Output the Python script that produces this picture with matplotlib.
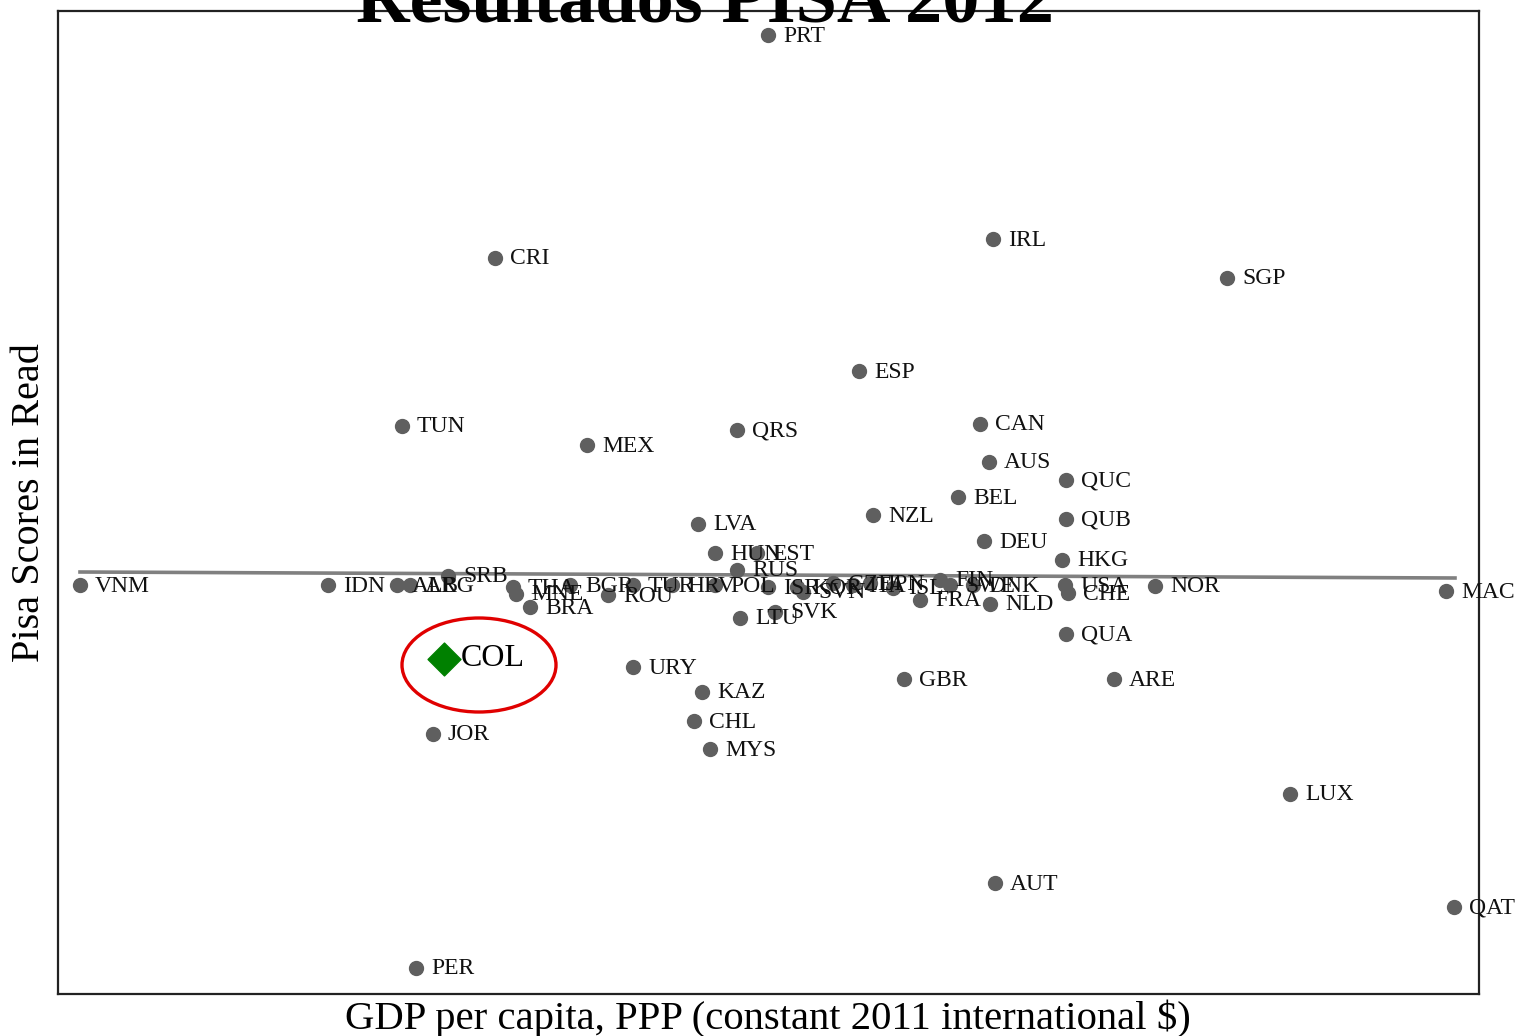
import matplotlib
matplotlib.use("Agg")
import matplotlib.pyplot as plt
from matplotlib.patches import Ellipse

# values (arbitrary units, no ticks on the original)
countries = ['PRT', 'IRL', 'CRI', 'SGP', 'ESP', 'TUN', 'CAN', 'MEX', 'QRS', 'AUS',
             'QUC', 'BEL', 'NZL', 'QUB', 'LVA', 'DEU', 'HKG', 'HUN', 'EST', 'RUS',
             'VNM', 'IDN', 'ALB', 'ARG', 'SRB', 'THA', 'MNE', 'BRA', 'BGR', 'ROU',
             'TUR', 'HRV', 'POL', 'ISR', 'KOR', 'SVN', 'CZE', 'ITA', 'JPN', 'ISL',
             'LTU', 'SVK', 'FRA', 'FIN', 'SWE', 'DNK', 'NLD', 'USA', 'CHE', 'NOR',
             'MAC', 'QUA', 'ARE', 'GBR', 'URY', 'KAZ', 'CHL', 'MYS', 'JOR', 'LUX',
             'AUT', 'QAT', 'PER']
gdp = [710, 935, 437, 1169, 801, 344, 922, 529, 679, 931,
       1008, 900, 815, 1008, 640, 926, 1004, 657, 699, 679,
       22, 270, 339, 352, 390, 455, 458, 472, 512, 550,
       575, 614, 657, 710, 739, 745, 775, 795, 812, 835,
       682, 717, 862, 882, 892, 915, 932, 1007, 1010, 1097,
       1388, 1008, 1056, 846, 575, 644, 636, 652, 375, 1232,
       937, 1396, 358]
read = [959, 755, 736, 716, 623, 568, 570, 549, 564, 532,
        514, 497, 479, 475, 470, 453, 434, 441, 441, 424,
        409, 409, 409, 409, 418, 407, 400, 387, 409, 399,
        409, 409, 409, 407, 407, 402, 411, 409, 411, 406,
        376, 382, 394, 414, 409, 409, 390, 409, 401, 408,
        403, 360, 315, 315, 327, 302, 273, 245, 260, 200,
        111, 87, 26]

col_gdp, col_read = 386, 335
trend_x = [22, 1397]
trend_y = [422, 416]

plt.rcParams['font.family'] = ['Liberation Serif', 'DejaVu Serif']

fig = plt.figure(figsize=(15.22, 10.36), dpi=100)
ax = fig.add_axes([58 / 1522, 1 - 994 / 1036, 1421 / 1522, 983 / 1036])
ax.set_xlim(0, 1421)
ax.set_ylim(0, 983)
ax.set_xticks([])
ax.set_yticks([])
for s in ax.spines.values():
    s.set_linewidth(1.6)
    s.set_color('#222222')

ax.plot(trend_x, trend_y, color='#808080', lw=2.6, zorder=1)
ax.scatter(gdp, read, s=100, color='#5f5f5f', zorder=2, clip_on=False)
for c, x, y in zip(countries, gdp, read):
    ax.text(x + 15, y - 1, c, fontsize=17, va='center', ha='left', color='#111111',
            clip_on=False, zorder=3)

# Colombia highlighted
ax.scatter([col_gdp], [col_read], marker='D', s=280, color='#008000', zorder=4)
ax.text(col_gdp + 17, col_read + 1, 'COL', fontsize=23, va='center', ha='left', zorder=4)
ax.add_patch(Ellipse((col_gdp + 35, col_read - 6), 154, 94, fill=False,
                     edgecolor='#e00000', lw=2.4, zorder=4))

fig.text(705 / 1522, 1 - 21 / 1036, 'Resultados PISA 2012', fontsize=53.5,
         fontweight='bold', ha='center', va='baseline')
fig.text(768 / 1522, 1 - 1029 / 1036, 'GDP per capita, PPP (constant 2011 international $)',
         fontsize=29.3, ha='center', va='baseline')
fig.text(30 / 1522, 1 - 503 / 1036, 'Pisa Scores in Read', fontsize=29,
         rotation=90, ha='center', va='center')

fig.savefig('out.png', dpi=100)
